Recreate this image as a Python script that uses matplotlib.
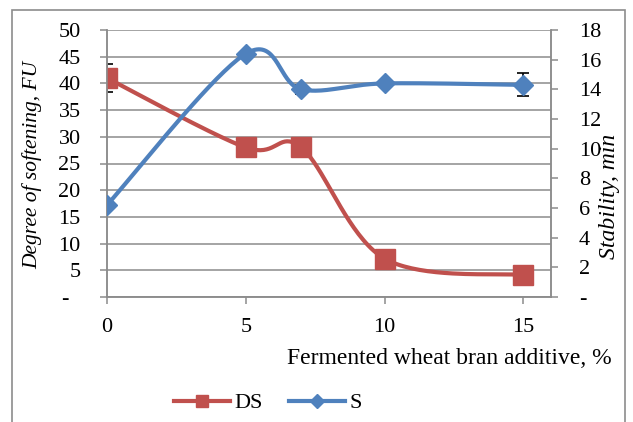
import numpy as np
import matplotlib
matplotlib.use("Agg")
import matplotlib.pyplot as plt
from matplotlib.patches import Rectangle
from matplotlib.lines import Line2D

# ---- data ----
additive = [0, 5, 7, 10, 15]
ds_values = [41.0, 28.0, 28.0, 7.2, 4.1]
ds_err = [2.7, 0, 0, 0, 0]
s_values = [6.2, 16.4, 14.0, 14.4, 14.3]
s_err = [0, 0, 0.3, 0, 0.78]
left_ticks = [0, 5, 10, 15, 20, 25, 30, 35, 40, 45, 50]
right_ticks = [0, 2, 4, 6, 8, 10, 12, 14, 16, 18]
x_ticks = [0, 5, 10, 15]

RED = "#C0504D"
BLUE = "#4F81BD"
GRID = "#8C8C8C"

plt.rcParams["font.family"] = ["Liberation Serif", "DejaVu Serif"]
plt.rcParams["font.size"] = 16


def smooth(xs, ys, n=40):
    """Excel-like Catmull-Rom Bezier smoothing for drawing the line."""
    xs = np.asarray(xs, float)
    ys = np.asarray(ys, float)
    P = np.column_stack([xs, ys])
    Pext = np.vstack([P[0], P, P[-1]])
    out = []
    t = np.linspace(0, 1, n)[:, None]
    for i in range(len(P) - 1):
        p0, p1, p2, p3 = Pext[i], Pext[i + 1], Pext[i + 2], Pext[i + 3]
        c1 = p1 + (p2 - p0) / 6.0
        c2 = p2 - (p3 - p1) / 6.0
        seg = ((1 - t) ** 3) * p1 + 3 * ((1 - t) ** 2) * t * c1 + 3 * (1 - t) * t ** 2 * c2 + t ** 3 * p2
        out.append(seg if i == 0 else seg[1:])
    out = np.vstack(out)
    return out[:, 0], out[:, 1]


fig = plt.figure(figsize=(6.33, 4.22), dpi=100)
ax = fig.add_axes([107 / 633, 1 - 297 / 422, (551 - 107) / 633, (297 - 30) / 422])
ax2 = ax.twinx()

# outer frame
fig.patches.append(Rectangle((12 / 633, -0.1), (625 - 12) / 633, 1.1 - 10 / 422,
                             transform=fig.transFigure, fill=False,
                             edgecolor=GRID, linewidth=1.2))

ax.set_xlim(0, 16)
ax.set_ylim(0, 50)
ax2.set_ylim(0, 18)

# grid
ax.set_yticks(left_ticks)
ax.set_yticklabels(["-  "] + [str(v) for v in left_ticks[1:]])
ax.yaxis.grid(True, color=GRID, linewidth=1.1)
ax.set_axisbelow(True)
ax.set_xticks(x_ticks)
ax.set_xticklabels([str(v) for v in x_ticks])
ax2.set_yticks(right_ticks)
ax2.set_yticklabels(["-"] + [str(v) for v in right_ticks[1:]])

for a in (ax, ax2):
    for sp in a.spines.values():
        sp.set_color(GRID)
        sp.set_linewidth(1.1)
    a.spines["top"].set_visible(False)
    a.tick_params(colors=GRID, labelcolor="black", width=1.1, length=5, labelsize=16)
ax.tick_params(axis="x", pad=10)
ax.tick_params(axis="y", pad=14)
ax2.tick_params(axis="y", pad=15)

# DS series
ax.errorbar(additive, ds_values, yerr=ds_err, fmt="none", ecolor="black",
            elinewidth=1.2, capsize=4.5, capthick=1.2, zorder=2)
sx, sy = smooth(additive, ds_values)
ax.plot(sx, sy, color=RED, linewidth=3, solid_capstyle="round", zorder=3)
ax.plot(additive, ds_values, linestyle="none", marker="s", markersize=14,
        color=RED, zorder=4)

# S series
ax2.errorbar(additive, s_values, yerr=s_err, fmt="none", ecolor="black",
             elinewidth=1.2, capsize=4.5, capthick=1.2, zorder=2)
tx, ty = smooth(additive, s_values)
ax2.plot(tx, ty, color=BLUE, linewidth=3, solid_capstyle="round", zorder=3)
ax2.plot(additive, s_values, linestyle="none", marker="D", markersize=10,
         color=BLUE, zorder=4)

# labels
fig.text(32 / 633, 1 - 165 / 422, "Degree of softening, FU", rotation=90,
         ha="center", va="center", style="italic", fontsize=15.5)
fig.text(610 / 633, 1 - 196 / 422, "Stability, min", rotation=90,
         ha="center", va="center", style="italic", fontsize=17)
fig.text(612 / 633, 1 - 358 / 422, "Fermented wheat bran additive, %",
         ha="right", va="center", fontsize=17)

handles = [
    Line2D([], [], color=RED, linewidth=3, marker="s", markersize=9),
    Line2D([], [], color=BLUE, linewidth=3, marker="D", markersize=7),
]
fig.legend(handles, ["DS", "S"], loc="center", bbox_to_anchor=(268 / 633, 1 - 403 / 422),
           ncol=2, frameon=False, handlelength=2.5, handletextpad=0.2,
           columnspacing=1.2, fontsize=16)

fig.savefig("out.png", dpi=100)
